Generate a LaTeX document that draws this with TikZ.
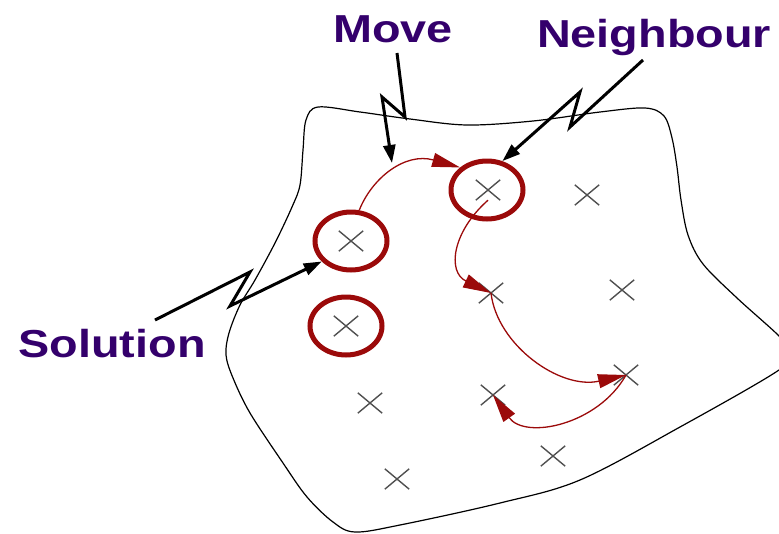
\documentclass[tikz,border=0pt]{standalone}
\usepackage{fontspec}
\usepackage{graphicx}
\newfontfamily\labfont{Liberation Sans}
\usetikzlibrary{arrows.meta,shapes.geometric,shapes.misc}
\definecolor{ringred}{RGB}{155,10,10}
\definecolor{labcol}{RGB}{52,0,108}
\definecolor{xgray}{RGB}{80,80,80}
\begin{document}
\begin{tikzpicture}[x=1pt,y=-1pt,
  ring/.style={ellipse, draw=ringred, line width=5pt, minimum width=72pt, minimum height=58pt, inner sep=0pt},
  xmark/.style={cross out, draw=xgray, line width=1.4pt, minimum width=23pt, minimum height=19pt, inner sep=0pt},
  redarrow/.style={draw=ringred, line width=1.3pt, -{Triangle[length=28pt,width=14pt]}},
  bolt/.style={draw=black, line width=3pt, -{Triangle[length=18pt,width=12pt]}, line join=miter},
  lab/.style={font=\labfont\bfseries\fontsize{39}{44}\selectfont, text=labcol, inner sep=0pt, anchor=base},
  blob/.style={draw=black, line width=1.2pt}]
\clip (0,0) rectangle (779,533);
% region outline
\draw[blob] plot[smooth cycle, tension=0.55] coordinates {
 (318,107) (360,112) (410,119) (467,125) (533,121) (600,112) (645,108) (664,116)
 (672,138) (677,167) (681,200) (688,235) (703,264) (737,298) (779,336) (790,352)
 (779,370) (680,427) (580,480) (500,503) (400,525) (355,532) (333,522) (307,497)
 (283,463) (250,413) (233,378) (226,355) (229,333) (240,305) (255,280) (275,243)
 (292,207) (300,185) (303,150) (306,120)};
% crosses
\node[xmark] (xA) at (351,241) {};
\node[xmark] (xB) at (346,326) {};
\node[xmark] (xC) at (488,190) {};
\node[xmark] (xD) at (587,195) {};
\node[xmark] (xE) at (491,293) {};
\node[xmark] (xF) at (622,290) {};
\node[xmark] (xG) at (626,375) {};
\node[xmark] (xH) at (370,403) {};
\node[xmark] (xI) at (493,395) {};
\node[xmark] (xJ) at (553,456) {};
\node[xmark] (xK) at (397,479) {};
% rings
\node[ring] (ringA) at (351,241) {};
\node[ring] (ringB) at (346,326) {};
\node[ring] (ringC) at (487,190) {};
% labels
\node[lab] (move) at (393,42) {\scalebox{1.2}[1]{Move}};
\node[lab] (neigh) at (654,47) {\scalebox{1.2}[1]{Neighbour}};
\node[lab] (sol) at (112,357) {\scalebox{1.2}[1]{Solution}};
\coordinate (movestart) at (397,53);
\coordinate (movetip) at (392,163);
\coordinate (nbstart) at (643,60);
\coordinate (solstart) at (155,320);
% red moves
\draw[redarrow] (ringA.75) .. controls (372,178) and (405,152) .. (ringC.140);
\draw[redarrow] (xC.south) .. controls (452,232) and (447,272) .. (xE.center);
\draw[redarrow] (xE.center) .. controls (497,345) and (560,390) .. (xG.center);
\draw[redarrow] (xG.center) .. controls (598,425) and (525,440) .. (xI.center);
% lightning pointers
\draw[bolt] (movestart) -- (405,117) -- (382,97) -- (movetip);
\draw[bolt] (nbstart) -- (570,127) -- (580,92) -- (ringC.62);
\draw[bolt] (solstart) -- (250,272) -- (230,306) -- (ringA.215);
\end{tikzpicture}
\end{document}
